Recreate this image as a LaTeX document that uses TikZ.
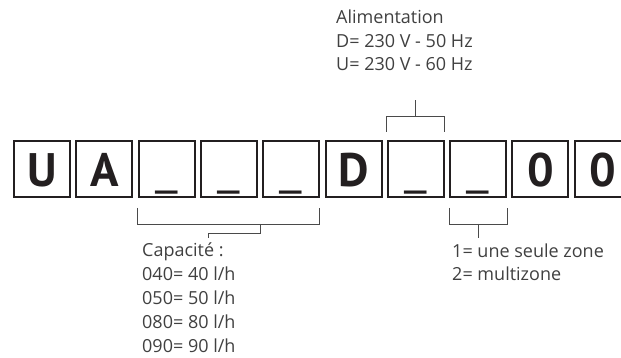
\documentclass[tikz,border=0pt]{standalone}
\usepackage{fontspec}
\setmainfont{Open Sans}
\newfontfamily\bigfont{PT Sans}
\usetikzlibrary{calc}
\definecolor{boxc}{HTML}{231F20}
\definecolor{txtc}{HTML}{404040}
\definecolor{brc}{HTML}{4A4A4A}
\newcommand{\blankmark}{{\rmfamily\mdseries\fontsize{50}{50}\selectfont\_}}
\begin{document}
\begin{tikzpicture}[x=1pt,y=-1pt,
  cell/.style={draw=boxc,line width=2pt,minimum size=56pt,inner sep=0pt,fill=white},
  big/.style={font=\bigfont\fontsize{47}{47}\selectfont\bfseries,text=boxc,inner sep=0pt,anchor=base},
  lbl/.style={font=\fontsize{18}{24}\selectfont,text=txtc,inner sep=0pt,anchor=base west},
  br/.style={draw=brc,line width=0.8pt}]
\useasboundingbox (0,0) rectangle (621,358);
% boxes
\foreach \c [count=\i] in {U,A,\blankmark,\blankmark,\blankmark,D,\blankmark,\blankmark,0,0}{
  \node[cell] (b\i) at ({42+62.3*(\i-1)},169) {};
  \node[big] (t\i) at ({42+62.3*(\i-1)},187) {\c};
}
% top label
\foreach \t [count=\i] in {Alimentation,D= 230 V - 50 Hz,U= 230 V - 60 Hz}{
  \node[lbl] (al\i) at (336,{24+23.5*(\i-1)}) {\t};
}
% capacity label
\foreach \t [count=\i] in {Capacité :,040= 40 l/h,050= 50 l/h,080= 80 l/h,090= 90 l/h}{
  \node[lbl] (cap\i) at (142,{256+24*(\i-1)}) {\t};
}
% zone label
\foreach \t [count=\i] in {1= une seule zone,2= multizone}{
  \node[lbl] (zo\i) at (452,{257+23.5*(\i-1)}) {\t};
}
\coordinate (alin) at ([yshift=40pt]b7.north);
\coordinate (capin) at (208,238);
\coordinate (zoin) at ([yshift=-40pt]b8.south);
% top bracket
\draw[br] ([yshift=8pt]b7.north west) -- ([yshift=24pt]b7.north west)
  -- ([yshift=24pt]b7.north east) -- ([yshift=8pt]b7.north east);
\draw[br] ([yshift=24pt]b7.north) -- (alin);
% bottom left bracket
\draw[br] ([yshift=-10pt]b3.south west) -- ([yshift=-26pt]b3.south west)
  -- ([xshift=-1pt,yshift=-26pt]b5.south east) -- ([xshift=-1pt,yshift=-10pt]b5.south east);
\draw[br] ([xshift=-2pt,yshift=-26pt]b5.south west) -- ([xshift=-2pt,yshift=-35pt]b5.south west)
  -| (capin);
% bottom right bracket
\draw[br] ([yshift=-10pt]b8.south west) -- ([yshift=-26pt]b8.south west)
  -- ([yshift=-26pt]b8.south east) -- ([yshift=-10pt]b8.south east);
\draw[br] ([yshift=-26pt]b8.south) -- (zoin);
\end{tikzpicture}
\end{document}
